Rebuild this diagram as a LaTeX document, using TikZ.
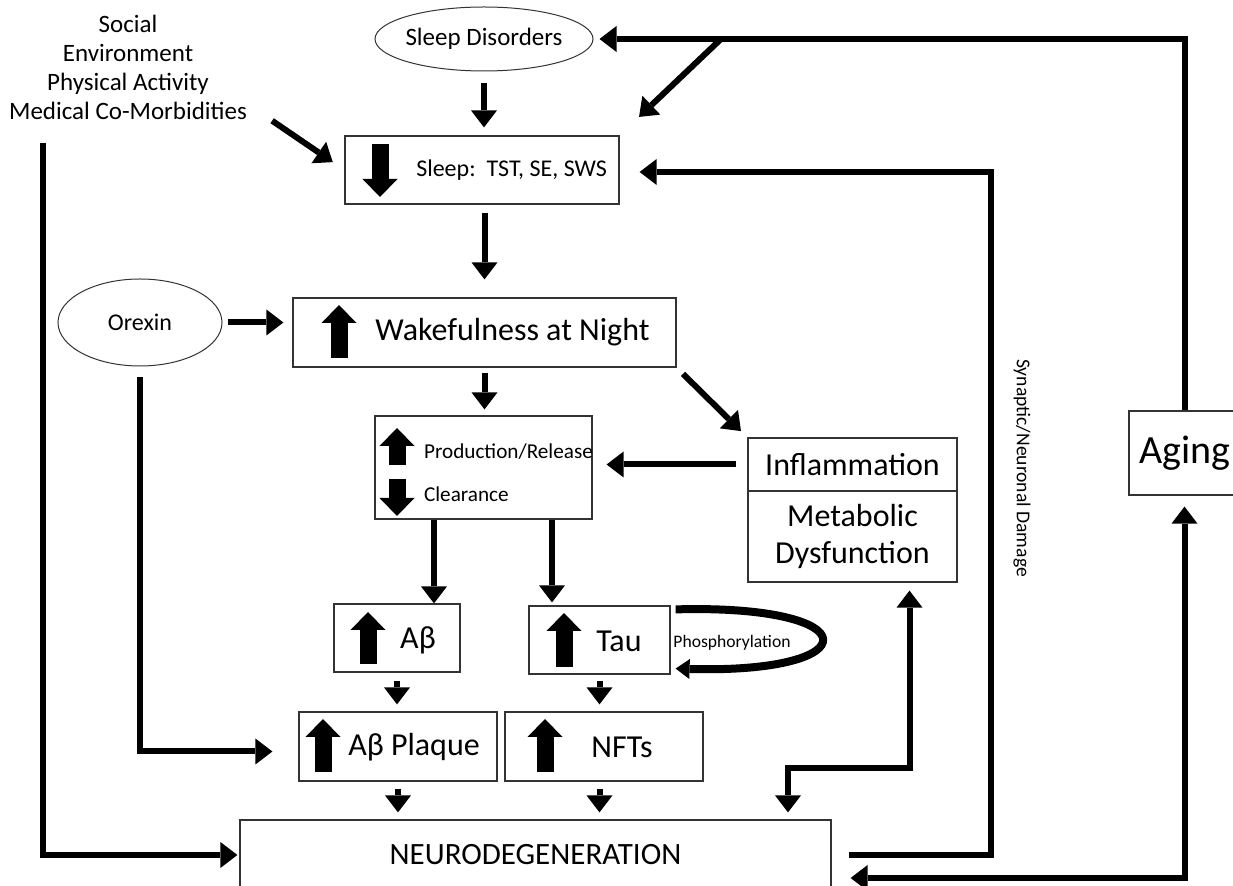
\documentclass[tikz,border=0pt]{standalone}
\usepackage{fontspec}
\setmainfont{Carlito}
\usetikzlibrary{arrows.meta,shapes.geometric}

\tikzset{
  box/.style={draw=black!80, line width=0.6pt, inner sep=0pt},
  oval/.style={draw=black!80, line width=0.5pt, ellipse, inner sep=0pt},
  conn/.style={line width=3pt, -{Triangle[width=13pt,length=8.5pt,line width=0pt]}},
  twoway/.style={line width=3pt, {Triangle[width=13pt,length=8.5pt,line width=0pt]}-{Triangle[width=13pt,length=8.5pt,line width=0pt]}},
  blockarr/.style={line width=8.5pt, -{Triangle[width=17.5pt,length=9pt,line width=0pt]}},
  smalltxt/.style={font=\fontsize{12.5}{14.5}\selectfont},
  midtxt/.style={font=\fontsize{10.6}{12.5}\selectfont},
  bigtxt/.style={font=\fontsize{16}{18.5}\selectfont},
}

\begin{document}
\begin{tikzpicture}[x=0.5pt, y=-0.5pt]
    % Frame
    \useasboundingbox (0,0) rectangle (1233,886);

    % Inputs
    \node[smalltxt, align=center] (social) at (128,67) {Social\\Environment\\Physical Activity\\Medical Co-Morbidities};
    \node[oval, smalltxt, inner xsep=-1pt, minimum width=109pt, minimum height=32pt] (sleepdis) at (484,39) {Sleep Disorders};
    \node[oval, font=\fontsize{12}{14}\selectfont, minimum width=82pt, minimum height=43.5pt] (orexin) at (140,322.5) {Orexin};

    % Sleep and wake
    \node[box, minimum width=137pt, minimum height=34pt] (sleep) at (482,170) {};
    \node[anchor=east, font=\fontsize{12}{14}\selectfont] (sleeplbl) at (614,170) {Sleep:~~TST, SE, SWS};
    \draw[blockarr] (380,144) -- (380,197);
    \node[box, minimum width=191.5pt, minimum height=34.5pt] (wake) at (484.5,332.5) {};
    \node[bigtxt] (wakelbl) at (512.5,332) {Wakefulness at Night};
    \draw[blockarr] (339,358) -- (339,305);

    % Production / clearance
    \node[box, minimum width=108.5pt, minimum height=51.5pt] (prod) at (483.5,467.5) {};
    \node[midtxt, anchor=west] (prodlbl) at (417,452) {Production/Release};
    \node[midtxt, anchor=west] (clearlbl) at (417,494) {Clearance};
    \draw[blockarr] (397,465) -- (397,428);
    \draw[blockarr] (397,479) -- (397,516);

    % Inflammation / metabolic
    \node[box, bigtxt, minimum width=104.5pt, minimum height=26.5pt] (inflam) at (852.5,464.5) {Inflammation};
    \node[box, bigtxt, align=center, minimum width=104.5pt, minimum height=45.5pt] (metab) at (852.5,536.5) {Metabolic\\Dysfunction};

    % Abeta and tau
    \node[box, minimum width=63pt, minimum height=34pt] (ab) at (397,638) {};
    \node[bigtxt] (ablbl) at (418,640) {Aβ};
    \draw[blockarr] (368,664) -- (368,612);
    \node[box, minimum width=70.5pt, minimum height=34pt] (tau) at (599.5,640) {};
    \node[bigtxt] (taulbl) at (619,641) {Tau};
    \draw[blockarr] (564,667) -- (564,613);
    \node[box, minimum width=99pt, minimum height=34.5pt] (plaque) at (398,746.5) {};
    \node[bigtxt] (plaquelbl) at (414,747) {Aβ Plaque};
    \draw[blockarr] (323,772) -- (323,719);
    \node[box, minimum width=99pt, minimum height=34.5pt] (nfts) at (604,746.5) {};
    \node[bigtxt] (nftslbl) at (622,747) {NFTs};
    \draw[blockarr] (545,772) -- (545,719);

    % Outcome and aging
    \node[box, font=\fontsize{15.5}{18}\selectfont, minimum width=295.5pt, minimum height=35pt] (neuro) at (535.5,855) {NEURODEGENERATION};
    \node[box, font=\fontsize{20}{24}\selectfont, minimum width=55.5pt, minimum height=42pt] (aging) at (1184.5,453) {Aging};
    \node[rotate=-90, font=\fontsize{9.8}{12}\selectfont] (dmg) at (1022,468) {Synaptic/Neuronal Damage};

    % Arrows
    \draw[conn, shorten <=6pt, shorten >=4pt] (sleepdis.south) -- (sleepdis.south |- sleep.north);
    \draw[conn, shorten <=11pt, shorten >=7pt] ([yshift=9pt]social.south east) -- (sleep.west);
    \draw[conn, shorten >=3pt] (aging.north) |- (sleepdis.east);
    \coordinate (split) at (721,39);
    \draw[conn, shorten >=13.4pt] (split) -- (sleep.north east);
    \draw[conn, shorten <=4pt, shorten >=9pt] (sleep.south -| wake.north) -- (wake.north);
    \draw[conn, shorten <=2.5pt, shorten >=4.5pt] (orexin.east) -- (orexin.east -| wake.west);
    \draw[conn, shorten <=5.5pt, shorten >=13pt] (orexin.south) |- ([yshift=-2.5pt]plaque.west);
    \draw[conn, shorten <=2.5pt, shorten >=3pt] (wake.south) -- (wake.south |- prod.north);
    \draw[conn, shorten <=4.5pt, shorten >=4.5pt] (wake.south east) -- (inflam.north west);
    \draw[conn, shorten <=5.5pt, shorten >=7pt] (inflam.west) -- (inflam.west -| prod.east);
    \draw[conn] ([xshift=-24.75pt]prod.south) -- ([xshift=-24.75pt]prod.south |- ab.north);
    \draw[conn, shorten >=1.5pt] ([xshift=34.25pt]prod.south) -- ([xshift=34.25pt]prod.south |- tau.north);
    \draw[conn, shorten <=4pt, shorten >=3.5pt] (ab.south) -- (ab.south |- plaque.north);
    \draw[conn, shorten <=3pt, shorten >=3.5pt] (tau.south) -- (tau.south |- nfts.north);
    \draw[conn, shorten <=3.5pt, shorten >=3.5pt] (plaque.south) -- (plaque.south |- neuro.north);
    \draw[conn, shorten <=3.5pt, shorten >=3.5pt] (tau.south |- nfts.south) -- (tau.south |- neuro.north);
    \coordinate (mbend) at (788,768);
    \draw[twoway, shorten <=4pt, shorten >=3.5pt] ([xshift=28.5pt]metab.south) |- (mbend) -- (mbend |- neuro.north);
    \coordinate (socdown) at (43,143);
    \draw[conn, shorten >=1pt] (socdown) |- (neuro.west);
    \coordinate (dmgtop) at (991,172);
    \draw[conn, shorten <=8.5pt, shorten >=10pt] (neuro.east) -| (dmgtop) -- (dmgtop -| sleep.east);
    \draw[twoway, shorten <=5.5pt, shorten >=9.5pt] (aging.south) |- ([yshift=-11.5pt]neuro.east);

    % Phosphorylation loop
    \draw[line width=4pt, -{Triangle[width=10pt,length=7pt,line width=0pt]}] ([xshift=2.5pt,yshift=-2pt]tau.north east) .. controls (870,604) and (870,674) .. ([xshift=2.5pt,yshift=3pt]tau.south east);
    \node[font=\fontsize{8.8}{10.5}\selectfont] (phos) at (732,643) {Phosphorylation};
\end{tikzpicture}
\end{document}
